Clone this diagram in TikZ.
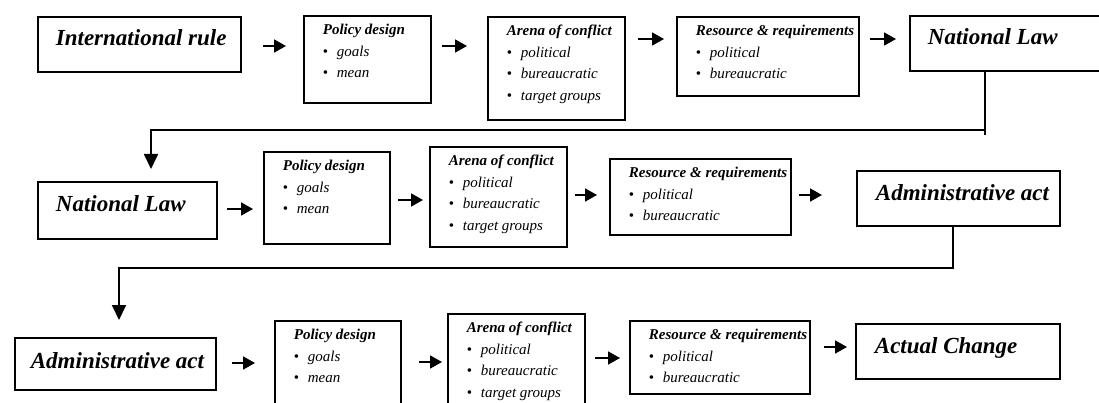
\documentclass[tikz,border=0pt]{standalone}
\usepackage{fontspec}
\setmainfont{Liberation Serif}
\usetikzlibrary{arrows.meta,calc}
\newcommand{\bulletline}[1]{\par\makebox[14pt][l]{\upshape\textbullet}#1}

\begin{document}
\begin{tikzpicture}[
    x=1pt, y=-1pt,
    box/.style={draw, line width=1.8pt, inner sep=0pt, anchor=north west},
    titlebox/.style={box, font=\fontsize{23}{27}\selectfont\bfseries\itshape},
    listbox/.style={box, font=\fontsize{15}{21.5}\selectfont\itshape},
    arrow/.style={-{Triangle[length=12pt,width=13pt]}, line width=1.8pt},
    link/.style={-{Triangle[length=15pt,width=14pt]}, line width=1.8pt}
  ]
    \useasboundingbox (0,0) rectangle (1099,403);

    % first row
    \node[titlebox] (irule) at (37,16) {\parbox[t][55pt][t]{203pt}{\leftskip=18pt\relax\rule{0pt}{29pt}International rule}};
    \node[listbox] (pd1) at (303,15) {\parbox[t][87pt][t]{127pt}{\leftskip=19pt\relax\rule{0pt}{19pt}\textbf{Policy design}\bulletline{goals}\bulletline{mean}}};
    \node[listbox] (ac1) at (487,16) {\parbox[t][103pt][t]{137pt}{\leftskip=19pt\relax\rule{0pt}{19pt}\textbf{Arena of conflict}\bulletline{political}\bulletline{bureaucratic}\bulletline{target groups}}};
    \node[listbox] (rr1) at (676,16) {\parbox[t][79pt][t]{182pt}{\leftskip=19pt\relax\rule{0pt}{19pt}\textbf{Resource \& requirements}\bulletline{political}\bulletline{bureaucratic}}};
    \node[titlebox] (nl1) at (909,15) {\parbox[t][55pt][t]{200pt}{\leftskip=18pt\relax\rule{0pt}{29pt}National Law}};

    % second row
    \node[titlebox] (nl2) at (37,181) {\parbox[t][57pt][t]{179pt}{\leftskip=18pt\relax\rule{0pt}{30pt}National Law}};
    \node[listbox] (pd2) at (263,151) {\parbox[t][92pt][t]{126pt}{\leftskip=19pt\relax\rule{0pt}{19pt}\textbf{Policy design}\bulletline{goals}\bulletline{mean}}};
    \node[listbox] (ac2) at (429,146) {\parbox[t][100pt][t]{137pt}{\leftskip=19pt\relax\rule{0pt}{19pt}\textbf{Arena of conflict}\bulletline{political}\bulletline{bureaucratic}\bulletline{target groups}}};
    \node[listbox] (rr2) at (609,158) {\parbox[t][76pt][t]{181pt}{\leftskip=19pt\relax\rule{0pt}{19pt}\textbf{Resource \& requirements}\bulletline{political}\bulletline{bureaucratic}}};
    \node[titlebox] (aa1) at (856,170) {\parbox[t][55pt][t]{203pt}{\leftskip=19pt\relax\rule{0pt}{30pt}Administrative act}};

    % third row
    \node[titlebox] (aa2) at (14,337) {\parbox[t][52pt][t]{201pt}{\leftskip=16pt\relax\rule{0pt}{31pt}Administrative act}};
    \node[listbox] (pd3) at (274,320) {\parbox[t][90pt][t]{126pt}{\leftskip=19pt\relax\rule{0pt}{19pt}\textbf{Policy design}\bulletline{goals}\bulletline{mean}}};
    \node[listbox] (ac3) at (447,313) {\parbox[t][100pt][t]{137pt}{\leftskip=19pt\relax\rule{0pt}{19pt}\textbf{Arena of conflict}\bulletline{political}\bulletline{bureaucratic}\bulletline{target groups}}};
    \node[listbox] (rr3) at (629,320) {\parbox[t][73pt][t]{180pt}{\leftskip=19pt\relax\rule{0pt}{19pt}\textbf{Resource \& requirements}\bulletline{political}\bulletline{bureaucratic}}};
    \node[titlebox] (chg) at (855,323) {\parbox[t][55pt][t]{204pt}{\leftskip=19pt\relax\rule{0pt}{30pt}Actual Change}};

    % arrows
    \draw[arrow, shorten <=21pt, shorten >=17pt] ($(irule.north east)+(0,30)$) -- ($(irule.north east -| pd1.west)+(0,30)$);
    \draw[arrow, shorten <=10pt, shorten >=20pt] ($(pd1.north east)+(0,31)$) -- ($(pd1.north east -| ac1.west)+(0,31)$);
    \draw[arrow, shorten <=12pt, shorten >=12pt] ($(ac1.north east)+(0,23)$) -- ($(ac1.north east -| rr1.west)+(0,23)$);
    \draw[arrow, shorten <=10pt, shorten >=13pt] ($(rr1.north east)+(0,23)$) -- ($(rr1.north east -| nl1.west)+(0,23)$);

    \draw[arrow, shorten <=9pt, shorten >=10pt] ($(nl2.north east)+(0,28)$) -- ($(nl2.north east -| pd2.west)+(0,28)$);
    \draw[arrow, shorten <=7pt, shorten >=6pt] ($(pd2.north east)+(0,49)$) -- ($(pd2.north east -| ac2.west)+(0,49)$);
    \draw[arrow, shorten <=7pt, shorten >=12pt] ($(ac2.north east)+(0,49)$) -- ($(ac2.north east -| rr2.west)+(0,49)$);
    \draw[arrow, shorten <=7pt, shorten >=34pt] ($(rr2.north east)+(0,37)$) -- ($(rr2.north east -| aa1.west)+(0,37)$);

    \draw[arrow, shorten <=15pt, shorten >=19pt] ($(aa2.north east)+(0,26)$) -- ($(aa2.north east -| pd3.west)+(0,26)$);
    \draw[arrow, shorten <=17pt, shorten >=5pt] ($(pd3.north east)+(0,42)$) -- ($(pd3.north east -| ac3.west)+(0,42)$);
    \draw[arrow, shorten <=9pt, shorten >=9pt] ($(ac3.north east)+(0,45)$) -- ($(ac3.north east -| rr3.west)+(0,45)$);
    \draw[arrow, shorten <=13pt, shorten >=8pt] ($(rr3.north east)+(0,27)$) -- ($(rr3.north east -| chg.west)+(0,27)$);

    % row to row
    \draw[link] ([xshift=76pt]nl1.south west) -- ++(0,63) ++(0,-5) -| ([xshift=114pt,yshift=12pt]nl2.north west);
    \draw[link] ([xshift=97pt]aa1.south west) -- ++(0,41) -| ([xshift=105pt,yshift=17pt]aa2.north west);
  \end{tikzpicture}
\end{document}
